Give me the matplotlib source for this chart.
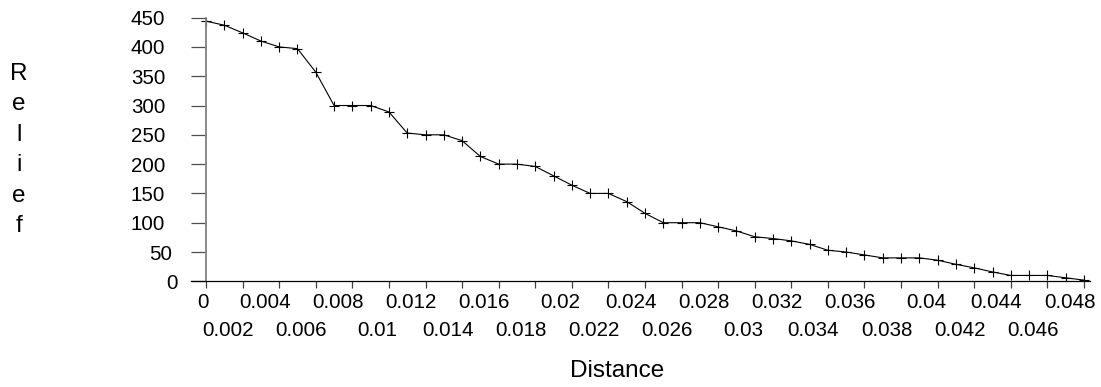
import matplotlib
matplotlib.use("Agg")
import matplotlib.pyplot as plt
import matplotlib.transforms as mtrans

plt.rcParams['font.family'] = ['Liberation Sans', 'DejaVu Sans']

# distance (step 0.001) and relief values
distance = [i / 1000 for i in range(49)]
relief = [444, 437, 424, 410, 400, 397, 357, 300, 300, 300,
          289, 253, 250, 250, 240, 213, 200, 200, 196, 180,
          164, 150, 150, 136, 116, 100, 100, 100, 93, 86,
          76, 73, 69, 63, 53, 50, 45, 40, 40, 40,
          36, 29, 23, 16, 10, 10, 10, 6, 2]

top_ticks = [0, 0.004, 0.008, 0.012, 0.016, 0.02, 0.024, 0.028, 0.032, 0.036, 0.04, 0.044, 0.048]
top_labels = ["0", "0.004", "0.008", "0.012", "0.016", "0.02", "0.024", "0.028", "0.032", "0.036", "0.04", "0.044", "0.048"]
low_ticks = [0.002, 0.006, 0.01, 0.014, 0.018, 0.022, 0.026, 0.03, 0.034, 0.038, 0.042, 0.046]
low_labels = ["0.002", "0.006", "0.01", "0.014", "0.018", "0.022", "0.026", "0.03", "0.034", "0.038", "0.042", "0.046"]
y_ticks = [0, 50, 100, 150, 200, 250, 300, 350, 400, 450]

fs = 14.8      # tick labels
fs_lab = 17.5  # axis titles

fig = plt.figure(figsize=(11.01, 3.87), dpi=100)
ax = fig.add_axes([0.1735, 0.2731, 0.8165, 0.6814])

ax.plot(distance, relief, color='black', lw=0.8, marker='+', ms=7.5, mew=0.8)

ax.set_xlim(-0.00082, 0.04833)
ax.set_ylim(0, 450)

for s in ['top', 'right']:
    ax.spines[s].set_visible(False)
ax.spines['left'].set_position(('data', 0))
ax.spines['left'].set_color('#808080')
ax.spines['left'].set_linewidth(1.3)
ax.spines['bottom'].set_color('black')
ax.spines['bottom'].set_linewidth(0.9)

ax.set_yticks(y_ticks)
ax.set_yticklabels([str(v) for v in y_ticks], fontsize=fs)
ax.tick_params(axis='y', length=10.8, width=0.9, color='#505050', pad=18.5)

ax.set_xticks(top_ticks)
ax.set_xticklabels(top_labels, fontsize=fs)
ax.set_xticks(low_ticks, minor=True)
ax.set_xticklabels(low_labels, minor=True, fontsize=fs)
ax.tick_params(axis='x', which='major', length=5, width=0.9, color='#404040', pad=3.3)
ax.tick_params(axis='x', which='minor', length=5, width=0.9, color='#404040', pad=23.8)


def shift(lab, px):
    lab.set_transform(lab.get_transform() + mtrans.ScaledTranslation(px / 100, 0, fig.dpi_scale_trans))


# the original places labels slightly off their ticks (shorter labels shift more)
for lab in ax.get_xticklabels() + ax.get_xticklabels(minor=True):
    t = lab.get_text()
    shift(lab, -3.2 * sum(c.isdigit() for c in t) - 1.6 * t.count('.'))
for lab in ax.get_yticklabels():
    shift(lab, 6.45 * (3 - len(lab.get_text())))

fig.text(19 / 1101, 1 - 150 / 387, "\n".join("Relief"), fontsize=fs_lab,
         ha='center', va='center', multialignment='center', linespacing=1.5)
fig.text(617 / 1101, 1 - 371 / 387, "Distance", fontsize=fs_lab, ha='center', va='center')

fig.savefig("out.png", dpi=100)
